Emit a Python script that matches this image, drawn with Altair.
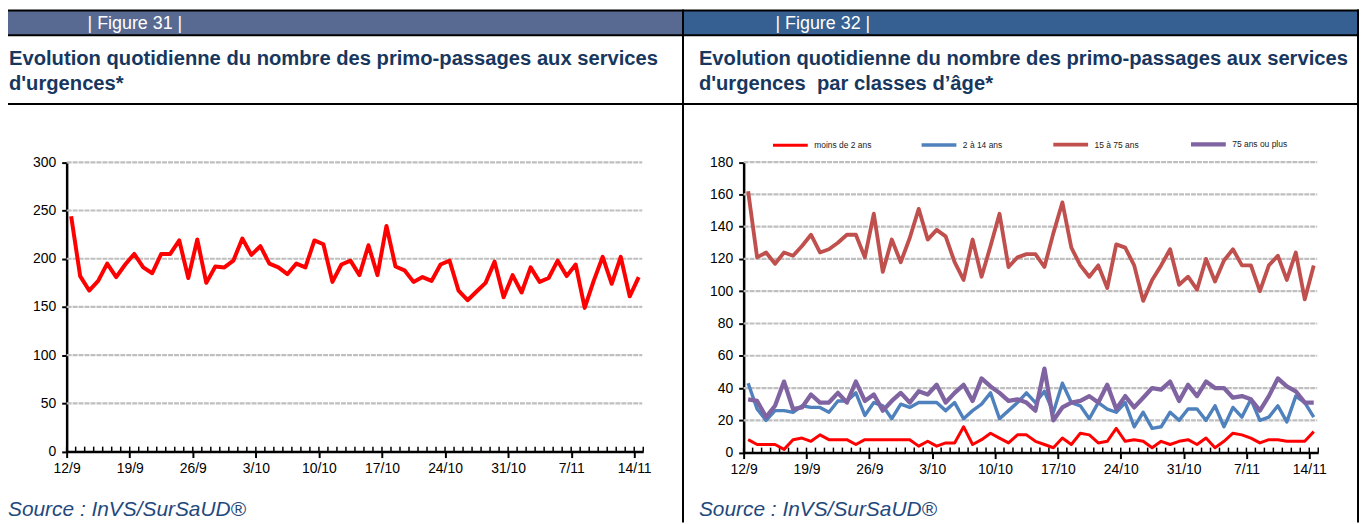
import json
import altair as alt
import pandas as pd

# ---------------- data ----------------
day_labels = ["12/9", "19/9", "26/9", "3/10", "10/10", "17/10", "24/10", "31/10", "7/11", "14/11"]

total = [244, 182, 167, 177, 195, 181, 194, 205, 191, 185, 205, 205, 219, 180, 220, 175,
         192, 191, 198, 221, 204, 213, 195, 191, 184, 195, 191, 219, 215, 176, 194, 198,
         183, 214, 183, 234, 192, 188, 176, 181, 177, 194, 198, 167, 157, 166, 175, 197,
         160, 183, 165, 191, 176, 180, 198, 182, 194, 149, 177, 202, 174, 202, 161, 181]

moins2 = [8, 5, 5, 5, 2, 8, 9, 7, 11, 8, 8, 8, 5, 8, 8, 8, 8, 8, 8, 4, 7, 4, 6, 6, 16, 5, 8, 12, 9, 6, 11, 11,
          7, 5, 3, 9, 5, 12, 11, 6, 7, 15, 7, 8, 7, 3, 7, 5, 7, 8, 5, 9, 3, 7, 12, 11, 9, 6, 8, 8, 7, 7, 7, 13]

de2a14 = [43, 27, 20, 26, 26, 25, 29, 28, 28, 25, 32, 32, 37, 23, 31, 29, 21, 30, 28, 31, 31, 31, 26, 31,
          21, 26, 30, 37, 21, 26, 31, 37,
          31, 38, 25, 43, 31, 29, 21, 31, 27, 25, 31, 16, 25, 15, 16, 25, 20, 27, 27, 20, 29, 16, 28, 22,
          33, 20, 22, 29, 19, 35, 31, 22]

de15a75 = [162, 121, 124, 117, 124, 122, 128, 135, 124, 126, 130, 135, 135, 121, 148, 112, 132, 118,
           133, 151, 132, 138, 134, 118, 107, 132, 109, 128, 148, 115, 121,
           123, 123, 115, 136, 155, 127, 116, 109, 116, 102, 129, 127, 116, 94, 107, 116, 126, 104,
           109, 101, 120, 106, 119, 126, 116, 116, 100, 116, 122, 107, 124, 95, 116]

plus75 = [33, 32, 22, 29, 44, 27, 28, 36, 31, 31, 37, 31, 44, 32, 36, 26, 32, 37, 31, 38, 36, 42, 31, 37,
          42, 32, 46, 41, 37, 32, 33, 31,
          26, 52, 20, 28, 31, 32, 35, 31, 42, 27, 35, 28, 34, 40, 39, 44, 32, 42, 35, 44, 40, 40, 34, 35,
          33, 26, 35, 46, 41, 38, 31, 31]

series_names = ["moins de 2 ans", "2 à 14 ans", "15 à 75 ans", "75 ans ou plus"]
series_values = [moins2, de2a14, de15a75, plus75]
series_colors = ["#FF0000", "#4F81BD", "#C0504D", "#8064A2"]
series_widths = [3, 4.3, 5, 4.3]

fig_labels = ["| Figure 31 |", "| Figure 32 |"]
titles = [["Evolution quotidienne du nombre des primo-passages aux services", "d'urgences*"],
          ["Evolution quotidienne du nombre des primo-passages aux services",
           "d'urgences\u00a0 par classes d\u2019\u00e2ge*"]]
source = "Source : InVS/SurSaUD\u00ae"

# ---------------- layout ----------------
W, H = 1359, 516
FONT = "Liberation Sans"
NAVY = "#17375E"

n = len(total)
df1 = pd.DataFrame({"jour": list(range(n)), "valeur": total})
df2 = pd.concat([pd.DataFrame({"jour": list(range(n)), "valeur": v, "serie": s})
                 for s, v in zip(series_names, series_values)], ignore_index=True)
bounds = pd.DataFrame({"b": [-0.5 + k for k in range(n + 1)]})
tick_vals = [-0.5 + 7 * k for k in range(len(day_labels))]
label_expr = json.dumps(day_labels) + "[round((datum.value + 0.5) / 7)]"

P1 = dict(x0=59, x1=639, ybot=444.7, ytop=153.7, ymax=300, ystep=50)
P2 = dict(x0=740, x1=1318, ybot=445.7, ytop=153.5, ymax=180, ystep=20)

one = pd.DataFrame({"k": [0]})


def xscale(p):
    return alt.Scale(domain=[-0.5, n - 0.5], range=[p["x0"], p["x1"]], nice=False, zero=False)


def yscale(p):
    return alt.Scale(domain=[0, p["ymax"]], range=[p["ybot"], p["ytop"]], nice=False)


def xaxis(p):
    return alt.Axis(orient="bottom", offset=p["ybot"] - H, values=tick_vals, labelExpr=label_expr,
                    title=None, grid=False, domainColor="black", domainWidth=2.5, tickColor="black",
                    tickWidth=2, tickSize=6, labelFontSize=14, labelFont=FONT, labelColor="black",
                    labelPadding=4, labelFlush=False, labelOverlap=False)


def yaxis(p):
    return alt.Axis(orient="left", offset=-p["x0"], values=list(range(0, p["ymax"] + 1, p["ystep"])),
                    title=None, grid=False, domainColor="black", domainWidth=2.5, tickColor="black",
                    tickWidth=2, tickSize=5, labelFontSize=14, labelFont=FONT, labelColor="black",
                    labelPadding=6)


def grid(p):
    g = pd.DataFrame({"g": list(range(p["ystep"], p["ymax"] + 1, p["ystep"]))})
    return alt.Chart(g).mark_rule(color="#BFBFBF", strokeWidth=2.2, strokeDash=[5, 1]).encode(
        y=alt.Y("g:Q", scale=yscale(p), axis=None),
        x=alt.value(p["x0"]), x2=alt.value(p["x1"] - 1))


def minor(p):
    return alt.Chart(bounds).mark_rule(color="black", strokeWidth=1.5).encode(
        x=alt.X("b:Q", scale=xscale(p), axis=None),
        y=alt.value(p["ybot"] - 5), y2=alt.value(p["ybot"]))


def rect(x0, x1, y0, y1, color):
    return alt.Chart(one).mark_rect(color=color).encode(
        x=alt.value(x0), x2=alt.value(x1), y=alt.value(y0), y2=alt.value(y1))


def hline(x0, x1, y, w=2):
    return alt.Chart(one).mark_rule(color="black", strokeWidth=w).encode(
        x=alt.value(x0), x2=alt.value(x1), y=alt.value(y))


def vline(x, y0, y1, w=2):
    return alt.Chart(one).mark_rule(color="black", strokeWidth=w).encode(
        x=alt.value(x), y=alt.value(y0), y2=alt.value(y1))


def text(s, x, y, size, color, weight="normal", style="normal"):
    return alt.Chart(one).mark_text(align="left", baseline="alphabetic", fontSize=size, font=FONT,
                                    color=color, fontWeight=weight, fontStyle=style).encode(
        x=alt.value(x), y=alt.value(y), text=alt.value(s))


line1 = alt.Chart(df1).mark_line(color="#FF0000", strokeWidth=4, strokeJoin="round").encode(
    x=alt.X("jour:Q", scale=xscale(P1), axis=xaxis(P1)),
    y=alt.Y("valeur:Q", scale=yscale(P1), axis=yaxis(P1)))

line2 = alt.Chart(df2).mark_line(strokeJoin="round").encode(
    x=alt.X("jour:Q", scale=xscale(P2), axis=xaxis(P2)),
    y=alt.Y("valeur:Q", scale=yscale(P2), axis=yaxis(P2)),
    color=alt.Color("serie:N", scale=alt.Scale(domain=series_names, range=series_colors),
                    legend=alt.Legend(orient="none", legendX=767, legendY=115.5, direction="horizontal",
                                      columns=4, title=None, symbolType="stroke", symbolSize=1225,
                                      symbolStrokeWidth=3, labelFontSize=8.5, labelFont=FONT,
                                      labelColor="#222222", labelOffset=4, columnPadding=42.5, padding=0)),
    strokeWidth=alt.StrokeWidth("serie:N", scale=alt.Scale(domain=series_names, range=series_widths),
                                legend=None))

layers = [
    rect(0, 678, 1, 26, "#586A91"),
    rect(680, 1357, 1, 26, "#366091"),
    hline(0, 1359, 1),
    hline(0, 1359, 26),
    hline(0, 1359, 95),
    vline(679, 0, H),
    vline(1358, 0, H),
    text(fig_labels[0], 80, 20, 18, "white"),
    text(fig_labels[1], 772, 20, 18, "white"),
    text(titles[0][0], 1, 56, 20.3, NAVY, weight="bold"),
    text(titles[0][1], 1, 81, 20.3, NAVY, weight="bold"),
    text(titles[1][0], 695, 56, 20.3, NAVY, weight="bold"),
    text(titles[1][1], 695, 81, 20.3, NAVY, weight="bold"),
    text(source, 0, 509, 21, "#1F497D", style="italic"),
    text(source, 695, 509, 21, "#1F497D", style="italic"),
    grid(P1), minor(P1), line1,
    grid(P2), minor(P2), line2,
]

chart = alt.layer(*layers).resolve_scale(
    x="independent", y="independent", color="independent", strokeWidth="independent"
).properties(
    width=W, height=H, autosize=alt.AutoSizeParams(type="none"), padding=0
).configure_view(stroke=None)

chart.save("out.html", embed_options={"renderer": "svg", "actions": False})
